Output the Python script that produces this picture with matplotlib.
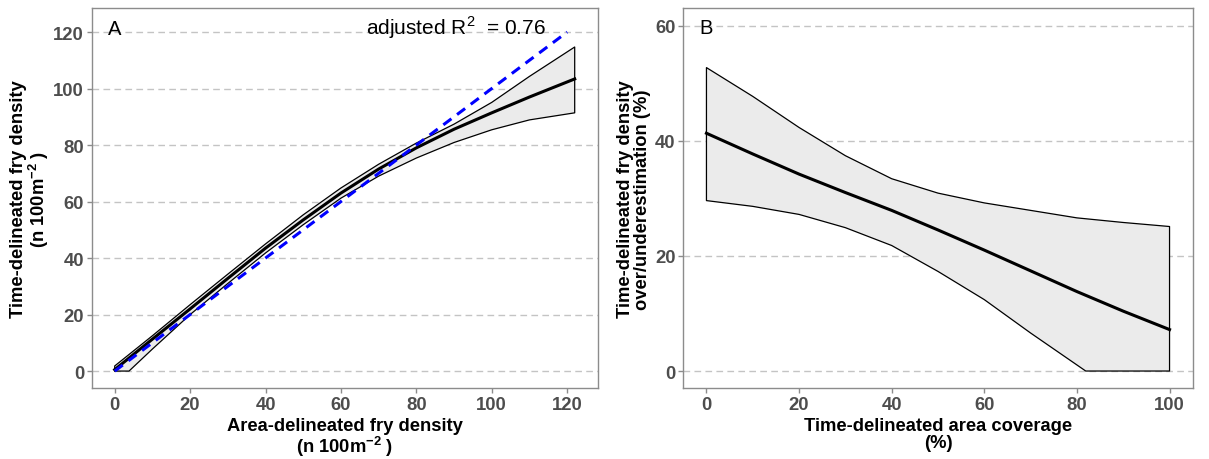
import matplotlib
matplotlib.use("Agg")
import matplotlib.pyplot as plt
import numpy as np

plt.rcParams['font.family'] = ['Liberation Sans', 'DejaVu Sans']
plt.rcParams['mathtext.fontset'] = 'custom'
plt.rcParams['mathtext.rm'] = 'Liberation Sans'
plt.rcParams['mathtext.bf'] = 'Liberation Sans:bold'

# Panel A data
a_x = [0, 10, 20, 30, 40, 50, 60, 70, 80, 90, 100, 110, 122]
a_fit = [0.5, 11.3, 22.0, 32.8, 43.5, 53.5, 63.0, 71.5, 79.0, 85.6, 91.4, 97.0, 103.4]
a_upper = [1.8, 12.5, 23.5, 34.3, 45.0, 55.3, 64.8, 73.2, 80.7, 87.4, 95.1, 104.3, 114.7]
a_low_x = [0, 3.8, 10, 20, 30, 40, 50, 60, 70, 80, 90, 100, 110, 122]
a_lower = [0, 0, 7.8, 20.0, 31.0, 41.8, 51.8, 61.2, 69.0, 75.4, 80.9, 85.4, 88.9, 91.4]
a_ident = [0, 120]
a_ticks = [0, 20, 40, 60, 80, 100, 120]

# Panel B data
b_x = [0, 10, 20, 30, 40, 50, 60, 70, 80, 90, 100]
b_fit = [41.3, 37.7, 34.2, 31.0, 27.9, 24.5, 21.0, 17.4, 13.8, 10.4, 7.2]
b_upper = [52.7, 47.7, 42.3, 37.4, 33.4, 30.9, 29.2, 27.9, 26.6, 25.8, 25.1]
b_low_x = [0, 10, 20, 30, 40, 50, 60, 70, 81.9, 100]
b_lower = [29.6, 28.6, 27.2, 24.9, 21.8, 17.3, 12.4, 6.6, 0, 0]
b_xticks = [0, 20, 40, 60, 80, 100]
b_yticks = [0, 20, 40, 60]

W, H = 1209, 460
fig = plt.figure(figsize=(W / 100, H / 100), dpi=100)

def px_axes(l, r, t, b):
    return fig.add_axes([l / W, 1 - b / H, (r - l) / W, (b - t) / H])

axA = px_axes(91.7, 597.7, 9.3, 389.3)
axB = px_axes(683.3, 1192.7, 9.3, 389.3)

fill_c = '#EBEBEB'
frame_c = '#8C8C8C'
tick_c = '#4D4D4D'
TICK_FS = 13.3
TITLE_FS = 13.2

def style(ax):
    for s in ax.spines.values():
        s.set_color(frame_c)
        s.set_linewidth(1.0)
    ax.tick_params(axis='both', colors=frame_c, length=3.5, width=1.0,
                   labelsize=TICK_FS, labelcolor=tick_c, pad=2)
    for lab in ax.get_xticklabels() + ax.get_yticklabels():
        lab.set_fontweight('bold')
    ax.yaxis.grid(True, color='#C4C4C4', linestyle=(0, (4.8, 3.1)), linewidth=1.0)
    ax.xaxis.grid(False)
    ax.set_axisbelow(True)

# Panel A
poly_x = list(a_x) + list(a_low_x[::-1])
poly_y = list(a_upper) + list(a_lower[::-1])
axA.fill(poly_x, poly_y, facecolor=fill_c, edgecolor='black', linewidth=0.9,
         joinstyle='round', zorder=2)
axA.plot(a_x, a_fit, color='black', linewidth=2.2, zorder=3, solid_joinstyle='round')
axA.plot(a_ident, a_ident, color='#0000FF', linewidth=2.2, linestyle=(0, (3.3, 2.3)), zorder=4)
axA.set_xlim(-6.1, 128.1)
axA.set_ylim(-6.1, 128.4)
axA.set_xticks(a_ticks)
axA.set_yticks(a_ticks)
style(axA)
axA.text(0.1, 119.4, 'A', fontsize=14.5, ha='center', va='baseline', color='black')
axA.text(90.5, 119.2, r'adjusted R$^{2}$  = 0.76', fontsize=15, ha='center', va='baseline', color='black')
axA.set_xlabel('Area-delineated fry density\n' + r'(n 100m$^{\mathbf{-2}}$ )',
               fontsize=TITLE_FS, fontweight='bold', labelpad=3, linespacing=1.0)
axA.set_ylabel('Time-delineated fry density\n' + r'(n 100m$^{\mathbf{-2}}$ )',
               fontsize=TITLE_FS, fontweight='bold', labelpad=1.5, linespacing=1.0)

# Panel B
poly_x = list(b_x) + list(b_low_x[::-1])
poly_y = list(b_upper) + list(b_lower[::-1])
axB.fill(poly_x, poly_y, facecolor=fill_c, edgecolor='black', linewidth=0.9,
         joinstyle='round', zorder=2)
axB.plot(b_x, b_fit, color='black', linewidth=2.2, zorder=3, solid_joinstyle='round')
axB.set_xlim(-5, 105)
axB.set_ylim(-3, 63)
axB.set_xticks(b_xticks)
axB.set_yticks(b_yticks)
style(axB)
axB.text(0.0, 58.7, 'B', fontsize=14.5, ha='center', va='baseline', color='black')
axB.set_xlabel('Time-delineated area coverage\n(%)',
               fontsize=TITLE_FS, fontweight='bold', labelpad=3, linespacing=1.0)
axB.set_ylabel('Time-delineated fry density\nover/underestimation (%)',
               fontsize=TITLE_FS, fontweight='bold', labelpad=3, linespacing=1.0)

fig.savefig('out.png', dpi=100)
